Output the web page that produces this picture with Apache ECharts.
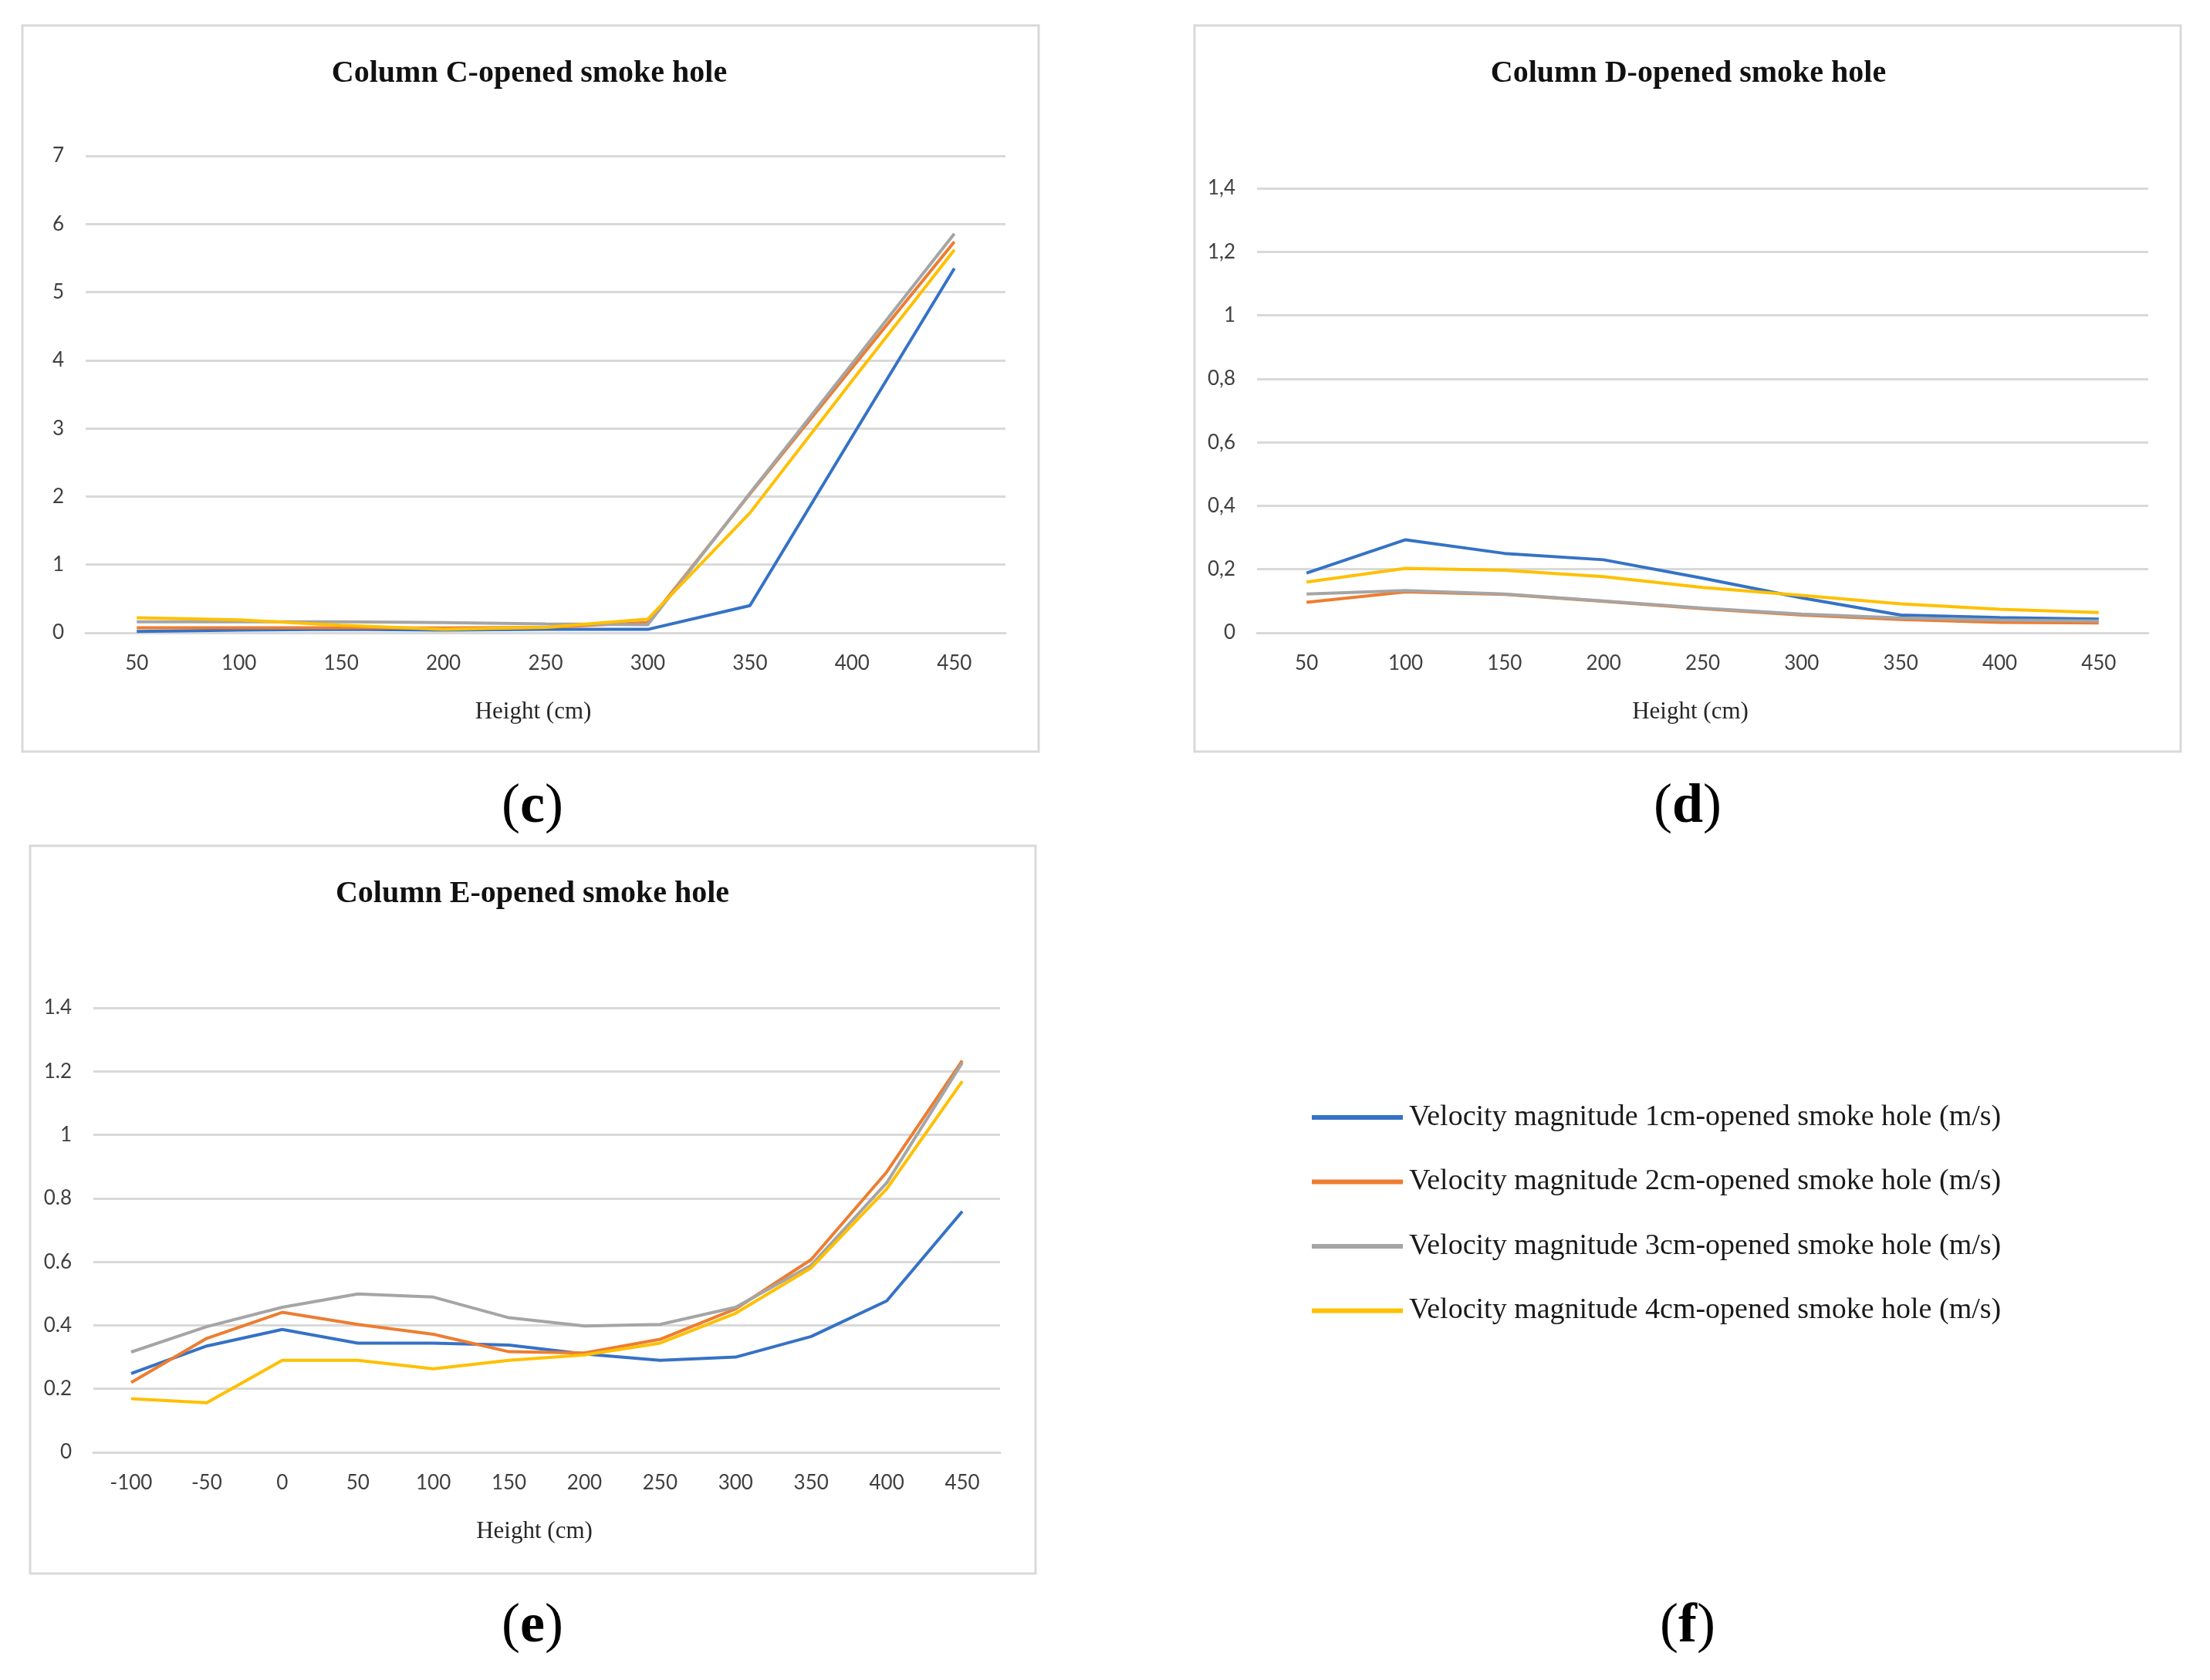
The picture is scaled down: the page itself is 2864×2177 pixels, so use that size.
<!DOCTYPE html>
<html>
<head>
<meta charset="utf-8">
<script src="https://cdn.jsdelivr.net/npm/echarts@6/dist/echarts.min.js"></script>
<style>
html,body{margin:0;padding:0;background:#fff;}
#chart{width:2864px;height:2177px;}
</style>
</head>
<body>
<div id="chart"></div>
<script>
// ---------- DATA ----------
const seriesNames = [
  'Velocity magnitude 1cm-opened smoke hole (m/s)',
  'Velocity magnitude 2cm-opened smoke hole (m/s)',
  'Velocity magnitude 3cm-opened smoke hole (m/s)',
  'Velocity magnitude 4cm-opened smoke hole (m/s)'
];
const colors = ['#3572c6', '#ED7D31', '#A5A5A5', '#FFC000'];

const catsC = ['50','100','150','200','250','300','350','400','450'];
const c1 = [0.02, 0.04, 0.05, 0.04, 0.05, 0.05, 0.40, 2.88, 5.35];
const c2 = [0.075, 0.075, 0.075, 0.07, 0.08, 0.15, 2.04, 3.89, 5.74];
const c3 = [0.16, 0.16, 0.16, 0.15, 0.13, 0.12, 2.05, 3.95, 5.86];
const c4 = [0.22, 0.19, 0.11, 0.05, 0.08, 0.20, 1.76, 3.70, 5.62];

const catsD = ['50','100','150','200','250','300','350','400','450'];
const d1 = [0.188, 0.293, 0.250, 0.230, 0.172, 0.110, 0.056, 0.048, 0.043];
const d2 = [0.096, 0.129, 0.121, 0.099, 0.076, 0.056, 0.042, 0.033, 0.031];
const d3 = [0.122, 0.133, 0.122, 0.100, 0.078, 0.059, 0.047, 0.040, 0.037];
const d4 = [0.160, 0.203, 0.197, 0.177, 0.143, 0.118, 0.091, 0.074, 0.064];

const catsE = ['-100','-50','0','50','100','150','200','250','300','350','400','450'];
const e1 = [0.248, 0.335, 0.387, 0.344, 0.344, 0.338, 0.310, 0.290, 0.300, 0.365, 0.477, 0.759];
const e2 = [0.220, 0.359, 0.441, 0.403, 0.372, 0.317, 0.313, 0.356, 0.452, 0.607, 0.883, 1.234];
const e3 = [0.316, 0.396, 0.457, 0.499, 0.489, 0.424, 0.398, 0.403, 0.457, 0.589, 0.849, 1.227];
const e4 = [0.169, 0.156, 0.290, 0.290, 0.263, 0.290, 0.307, 0.344, 0.438, 0.581, 0.830, 1.169];

const titles = ['Column C-opened smoke hole', 'Column D-opened smoke hole', 'Column E-opened smoke hole'];
const xName = 'Height (cm)';

// ---------- CHART ----------
const chart = echarts.init(document.getElementById('chart'), null, {renderer: 'canvas'});
const tickFont = 'Lato';
const serif = '"Liberation Serif", "Times New Roman", serif';
const gridColor = '#d9d9d9';

function xAx(gi, cats) {
  return {
    type: 'category', gridIndex: gi, data: cats, boundaryGap: true,
    axisLine: {show: true, lineStyle: {color: gridColor, width: 3}},
    axisTick: {show: false},
    axisLabel: {fontFamily: tickFont, fontSize: 26, color: '#404040', margin: 27, interval: 0},
    name: xName, nameLocation: 'middle', nameGap: 87,
    nameTextStyle: {fontFamily: serif, fontSize: 31, color: '#262626', padding: [0, 32, 0, 0]}
  };
}
function yAx(gi, max, interval, fmt) {
  return {
    type: 'value', gridIndex: gi, min: 0, max: max, interval: interval,
    axisLine: {show: false}, axisTick: {show: false},
    splitLine: {show: true, lineStyle: {color: gridColor, width: 3}},
    axisLabel: {fontFamily: tickFont, fontSize: 26, color: '#404040', margin: 28, formatter: fmt}
  };
}
const fmtInt = v => String(Math.round(v));
const fmtComma = v => String(+(+v).toFixed(1)).replace('.', ',');
const fmtDot = v => String(+(+v).toFixed(1));

const panelData = [[c1, c2, c3, c4], [d1, d2, d3, d4], [e1, e2, e3, e4]];
const series = [];
panelData.forEach((arrs, gi) => {
  arrs.forEach((arr, si) => {
    series.push({
      type: 'line', name: seriesNames[si], xAxisIndex: gi, yAxisIndex: gi,
      data: arr, showSymbol: false, symbol: 'none', smooth: false,
      lineStyle: {color: colors[si], width: 4},
      itemStyle: {color: colors[si]},
      z: 2 + si, animation: false
    });
  });
});

function txt(x, y, text, font, size, weight, color) {
  return {type: 'text', x: x, y: y, silent: true,
    style: {text: text, fontFamily: font, fontSize: size, fontWeight: weight || 'normal',
      fill: color || '#000', align: 'center', verticalAlign: 'middle'}};
}
function panelLabel(x, y, letter) {
  return {type: 'text', x: x, y: y, silent: true,
    style: {text: '{p|(}{b|' + letter + '}{p|)}', align: 'center', verticalAlign: 'middle',
      rich: {p: {fontFamily: serif, fontSize: 72, fill: '#000'},
             b: {fontFamily: serif, fontSize: 72, fontWeight: 'bold', fill: '#000'}}}};
}
function box(x, y, w, h) {
  return {type: 'rect', silent: true, z: -1, shape: {x: x, y: y, width: w, height: h},
    style: {fill: '#fff', stroke: gridColor, lineWidth: 3}};
}

const option = {
  backgroundColor: '#fff',
  animation: false,
  grid: [
    {left: 111, top: 202, width: 1192, height: 618},
    {left: 1629, top: 244, width: 1155, height: 576},
    {left: 121, top: 1306, width: 1175, height: 576}
  ],
  xAxis: [xAx(0, catsC), xAx(1, catsD), xAx(2, catsE)],
  yAxis: [yAx(0, 7, 1, fmtInt), yAx(1, 1.4, 0.2, fmtComma), yAx(2, 1.4, 0.2, fmtDot)],
  legend: {
    orient: 'vertical', left: 1695, top: 1423,
    data: seriesNames, icon: 'rect', itemWidth: 118, itemHeight: 6, itemGap: 43.5,
    textStyle: {fontFamily: serif, fontSize: 38, color: '#1a1a1a', lineHeight: 40, padding: [0, 0, 0, 3]},
    selectedMode: false
  },
  graphic: [
    box(29, 33, 1317, 941),
    box(1548, 33, 1278, 941),
    box(39, 1096, 1303, 943),
    txt(686, 96, titles[0], serif, 40, 'bold', '#111'),
    txt(2188, 96, titles[1], serif, 40, 'bold', '#111'),
    txt(690, 1159, titles[2], serif, 40, 'bold', '#111'),
    panelLabel(690, 1046, 'c'),
    panelLabel(2187, 1046, 'd'),
    panelLabel(690, 2108, 'e'),
    panelLabel(2187, 2108, 'f')
  ],
  series: series
};
chart.setOption(option);
</script>
</body>
</html>
